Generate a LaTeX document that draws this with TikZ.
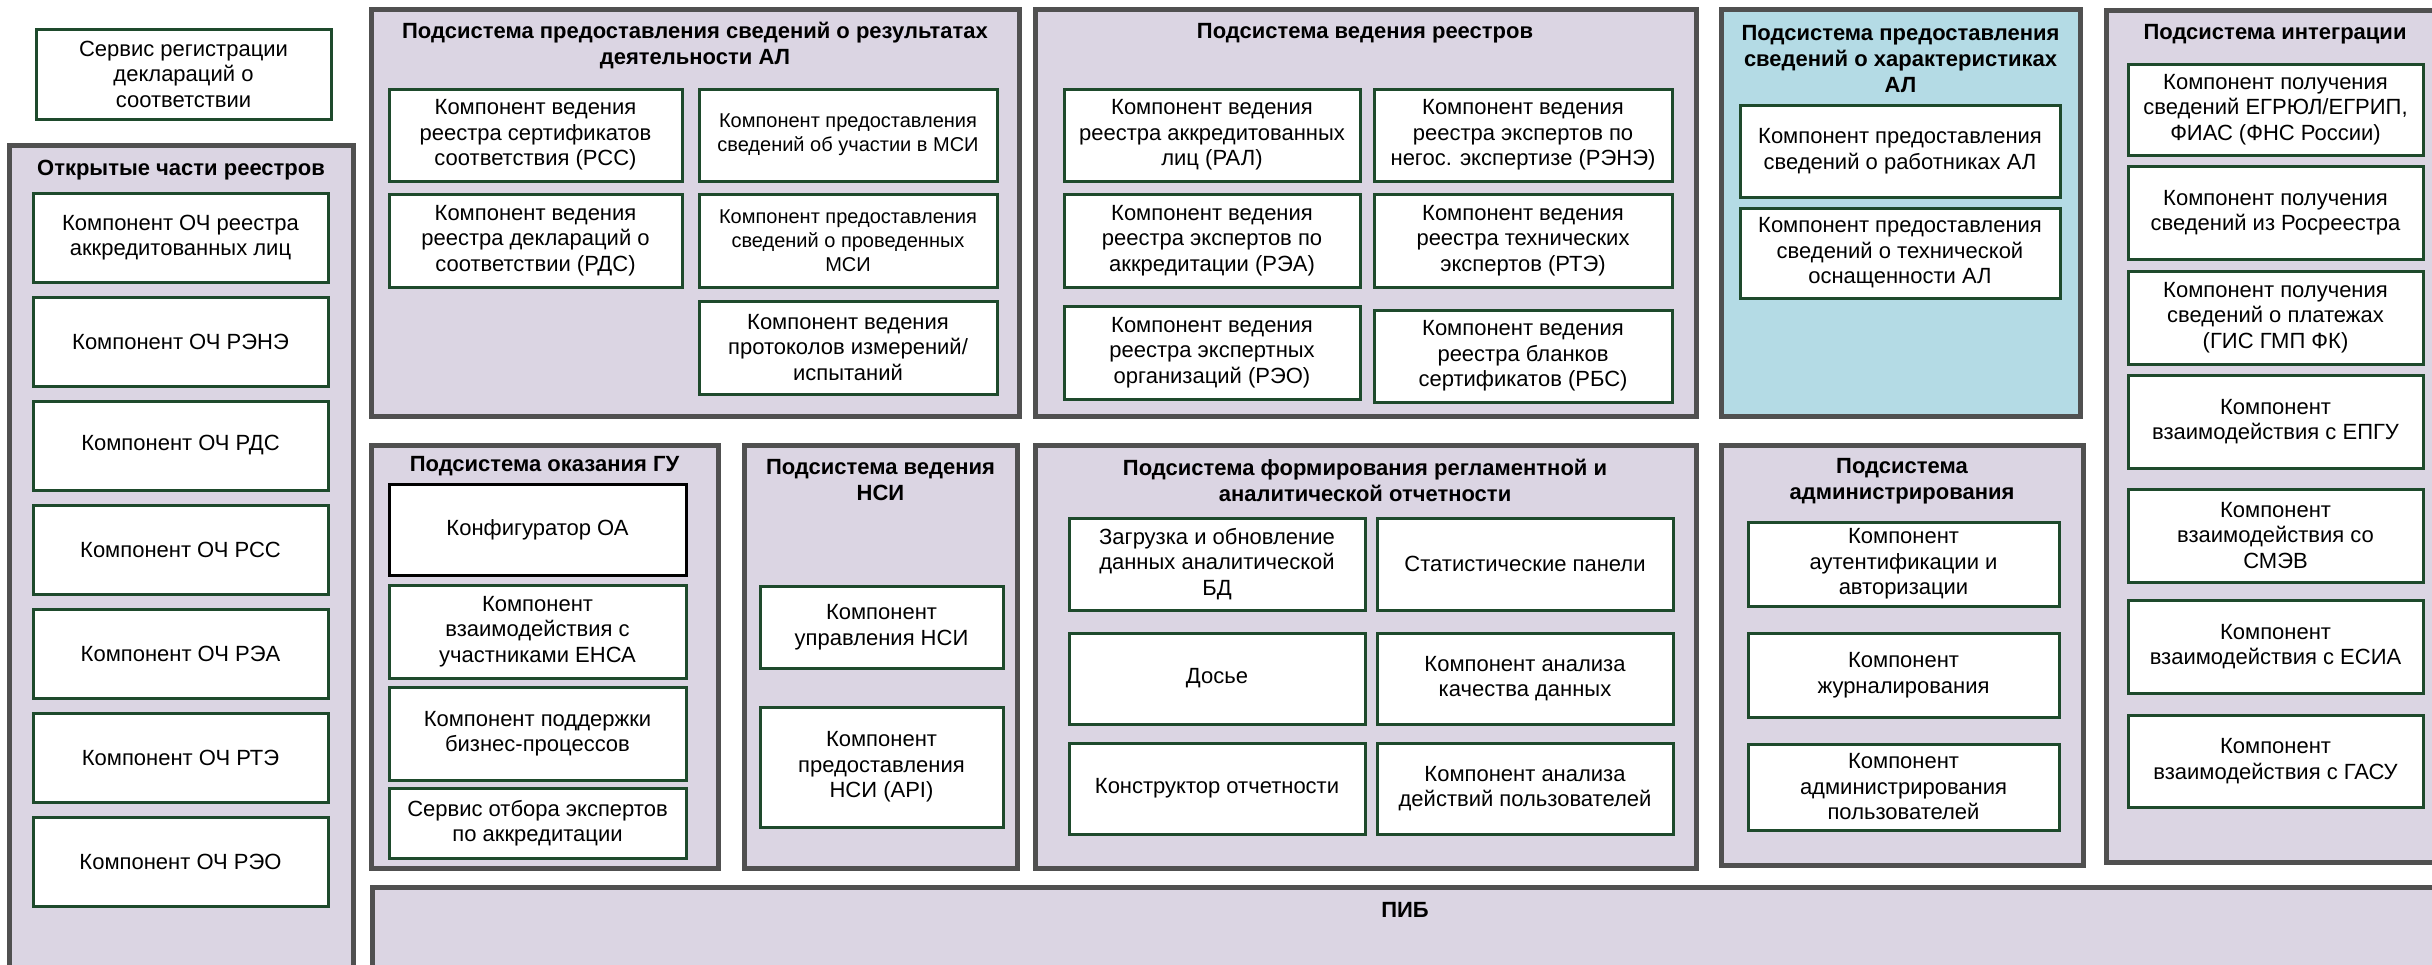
\documentclass[tikz,border=0pt]{standalone}
\usepackage{fontspec}
\setmainfont{Liberation Sans}
\definecolor{lav}{RGB}{219,213,227}
\definecolor{bluefill}{RGB}{180,219,229}
\definecolor{frame}{RGB}{80,80,80}
\definecolor{boxline}{RGB}{30,74,44}
\tikzset{
  cont/.style={draw=frame, line width=5pt, fill=lav, inner sep=0pt},
  contblue/.style={cont, fill=bluefill},
  comp/.style={draw=boxline, line width=3pt, fill=white, inner sep=0pt, align=center,
    font=\fontsize{22}{25.5}\selectfont},
  compsmall/.style={comp, font=\fontsize{20}{24}\selectfont},
  compblack/.style={comp, draw=black},
  ttl/.style={align=center, inner sep=0pt, font=\bfseries\fontsize{22}{26}\selectfont},
}
\newcommand\bx[7]{%
  \pgfmathsetmacro\mybw{#5-#3}\pgfmathsetmacro\mybh{#6-#4}%
  \pgfmathsetmacro\mycx{(#3+#5)/2}\pgfmathsetmacro\mycy{(#4+#6)/2}%
  \node[#1, minimum width=\mybw pt, minimum height=\mybh pt] (#2) at (\mycx,\mycy) {#7};}
\begin{document}
\begin{tikzpicture}[x=1pt,y=-1pt]
\fill[white] (0,0) rectangle (2432,964);
\useasboundingbox (0,0) rectangle (2432,964);

% service box
\bx{comp}{svc}{36}{29}{331}{119}{Сервис регистрации\\деклараций о\\соответствии}

% open parts
\bx{cont}{open}{9}{145}{353}{985}{}
\node[ttl] (openT) at (181,170) {Открытые части реестров};
\bx{comp}{o1}{33}{193}{328}{282}{Компонент ОЧ реестра\\аккредитованных лиц}
\bx{comp}{o2}{33}{297}{328}{386}{Компонент ОЧ РЭНЭ}
\bx{comp}{o3}{33}{401}{328}{490}{Компонент ОЧ РДС}
\bx{comp}{o4}{33}{505}{328}{594}{Компонент ОЧ РСС}
\bx{comp}{o5}{33}{609}{328}{698}{Компонент ОЧ РЭА}
\bx{comp}{o6}{33}{713}{328}{802}{Компонент ОЧ РТЭ}
\bx{comp}{o7}{33}{817}{328}{906}{Компонент ОЧ РЭО}

% container 1
\bx{cont}{c1}{371}{9}{1019}{416}{}
\node[ttl] (c1T) at (695,45.5) {Подсистема предоставления сведений о результатах\\деятельности АЛ};
\bx{comp}{c1a}{389}{89}{682}{181}{Компонент ведения\\реестра сертификатов\\соответствия (РСС)}
\bx{comp}{c1b}{389}{194}{682}{287}{Компонент ведения\\реестра деклараций о\\соответствии (РДС)}
\bx{compsmall}{c1c}{699}{89}{997}{181}{Компонент предоставления\\сведений об участии в МСИ}
\bx{compsmall}{c1d}{699}{194}{997}{287}{Компонент предоставления\\сведений о проведенных\\МСИ}
\bx{comp}{c1e}{699}{301}{997}{394}{Компонент ведения\\протоколов измерений/\\испытаний}

% container 2
\bx{cont}{c2}{1035}{9}{1696}{416}{}
\node[ttl] (c2T) at (1365,33) {Подсистема ведения реестров};
\bx{comp}{c2a}{1064}{89}{1360}{181}{Компонент ведения\\реестра аккредитованных\\лиц (РАЛ)}
\bx{comp}{c2b}{1064}{194}{1360}{287}{Компонент ведения\\реестра экспертов по\\аккредитации (РЭА)}
\bx{comp}{c2c}{1064}{306}{1360}{399}{Компонент ведения\\реестра экспертных\\организаций (РЭО)}
\bx{comp}{c2d}{1374}{89}{1672}{181}{Компонент ведения\\реестра экспертов по\\негос. экспертизе (РЭНЭ)}
\bx{comp}{c2e}{1374}{194}{1672}{287}{Компонент ведения\\реестра технических\\экспертов (РТЭ)}
\bx{comp}{c2f}{1374}{310}{1672}{402}{Компонент ведения\\реестра бланков\\сертификатов (РБС)}

% container 3 (blue)
\bx{contblue}{c3}{1721}{9}{2080}{416}{}
\node[ttl] (c3T) at (1900.5,59) {Подсистема предоставления\\сведений о характеристиках\\АЛ};
\bx{comp}{c3a}{1740}{105}{2060}{197}{Компонент предоставления\\сведений о работниках АЛ}
\bx{comp}{c3b}{1740}{208}{2060}{298}{Компонент предоставления\\сведений о технической\\оснащенности АЛ}

% container 4 integration
\bx{cont}{c4}{2106}{10}{2450}{862}{}
\node[ttl] (c4T) at (2275,34) {Подсистема интеграции};
\bx{comp}{c4a}{2128}{64}{2423}{155}{Компонент получения\\сведений ЕГРЮЛ/ЕГРИП,\\ФИАС (ФНС России)}
\bx{comp}{c4b}{2128}{166}{2423}{259}{Компонент получения\\сведений из Росреестра}
\bx{comp}{c4c}{2128}{271}{2423}{364}{Компонент получения\\сведений о платежах\\(ГИС ГМП ФК)}
\bx{comp}{c4d}{2128}{375}{2423}{468}{Компонент\\взаимодействия с ЕПГУ}
\bx{comp}{c4e}{2128}{489}{2423}{582}{Компонент\\взаимодействия со\\СМЭВ}
\bx{comp}{c4f}{2128}{600}{2423}{693}{Компонент\\взаимодействия с ЕСИА}
\bx{comp}{c4g}{2128}{715}{2423}{807}{Компонент\\взаимодействия с ГАСУ}

% container 5 GU
\bx{cont}{c5}{371}{445}{718}{868}{}
\node[ttl] (c5T) at (544.5,466) {Подсистема оказания ГУ};
\bx{compblack}{c5a}{389}{484}{686}{575}{Конфигуратор ОА}
\bx{comp}{c5b}{389}{585}{686}{678}{Компонент\\взаимодействия с\\участниками ЕНСА}
\bx{comp}{c5c}{389}{687}{686}{780}{Компонент поддержки\\бизнес-процессов}
\bx{comp}{c5d}{389}{788}{686}{858}{Сервис отбора экспертов\\по аккредитации}

% container 6 NSI
\bx{cont}{c6}{744}{445}{1017}{868}{}
\node[ttl] (c6T) at (880.5,480) {Подсистема ведения\\НСИ};
\bx{comp}{c6a}{760}{586}{1003}{668}{Компонент\\управления НСИ}
\bx{comp}{c6b}{760}{707}{1003}{827}{Компонент\\предоставления\\НСИ (API)}

% container 7 reports
\bx{cont}{c7}{1035}{445}{1696}{868}{}
\node[ttl] (c7T) at (1365,480) {Подсистема формирования регламентной и\\аналитической отчетности};
\bx{comp}{c7a}{1069}{518}{1365}{610}{Загрузка и обновление\\данных аналитической\\БД}
\bx{comp}{c7b}{1069}{633}{1365}{724}{Досье}
\bx{comp}{c7c}{1069}{743}{1365}{834}{Конструктор отчетности}
\bx{comp}{c7d}{1377}{518}{1673}{610}{Статистические панели}
\bx{comp}{c7e}{1377}{633}{1673}{724}{Компонент анализа\\качества данных}
\bx{comp}{c7f}{1377}{743}{1673}{834}{Компонент анализа\\действий пользователей}

% container 8 admin
\bx{cont}{c8}{1721}{445}{2083}{865}{}
\node[ttl] (c8T) at (1902,481) {Подсистема\\администрирования};
\bx{comp}{c8a}{1748}{522}{2059}{606}{Компонент\\аутентификации и\\авторизации}
\bx{comp}{c8b}{1748}{633}{2059}{717}{Компонент\\журналирования}
\bx{comp}{c8c}{1748}{744}{2059}{830}{Компонент\\администрирования\\пользователей}

% PIB
\bx{cont}{pib}{372}{887}{2450}{985}{}
\node[ttl] (pibT) at (1405,910) {ПИБ};
\end{tikzpicture}
\end{document}
